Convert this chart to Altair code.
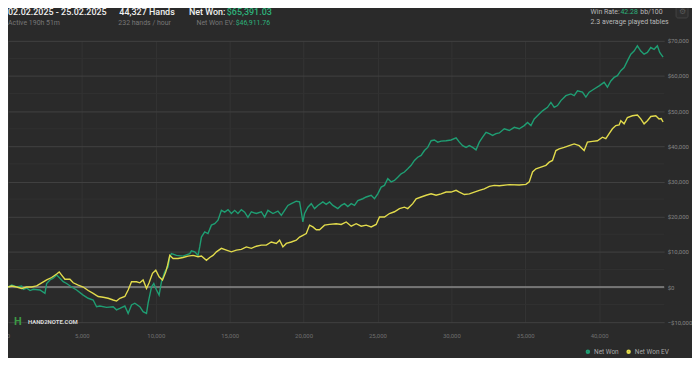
import altair as alt
import pandas as pd

# ---- data ----
won_hands = [0, 250, 588, 926, 1034, 1264, 1487, 1710, 2162, 2500, 2615, 2838, 3061, 3291, 3514, 3737, 3966,
             4304, 4642, 5088, 5426, 5764, 5993, 6216, 6669, 7115, 7345, 7568, 7906, 8129, 8359, 8582, 8919,
             9142, 9372, 9480, 9710, 9865, 10048, 10224, 10386, 10608, 10831, 10946, 11061, 11399, 11845,
             12298, 12413, 12636, 12859, 12973, 13088, 13311, 13534, 13764, 13987, 14210, 14440, 14663, 14886,
             15115, 15338, 15561, 15791, 16014, 16237, 16467, 16804, 17142, 17365, 17588, 17926, 18264, 18494,
             18717, 18940, 19170, 19507, 19730, 19845, 19953, 20068, 20291, 20521, 20744, 20967, 21305, 21535,
             21757, 21981, 22319, 22549, 22771, 22994, 23224, 23447, 23670, 24008, 24238, 24575, 24798, 25021,
             25251, 25474, 25697, 25927, 26150, 26373, 26603, 26826, 27049, 27279, 27502, 27725, 27955, 28178,
             28401, 28631, 28854, 29077, 29307, 29643, 29981, 30319, 30542, 30765, 30995, 31218, 31441, 31670,
             31893, 32116, 32346, 32569, 32792, 33021, 33244, 33582, 33920, 34258, 34595, 34933, 35156, 35386,
             35609, 35946, 36169, 36507, 36737, 36960, 37183, 37413, 37750, 38088, 38311, 38534, 38872, 39102,
             39325, 39662, 40000, 40338, 40561, 40791, 41014, 41237, 41467, 41690, 41913, 42143, 42366, 42589,
             42819, 43042, 43265, 43495, 43718, 43941, 44100, 44327]
won_values = [0, 560, 0, 300, -650, -280, -1000, -650, -850, -1800, 1000, 2000, 2500, 3400, 2500, 1500, 1000,
              0, -850, -2300, -3200, -3700, -5600, -5400, -5800, -5600, -6500, -6100, -5400, -7500, -5100, -4600,
              -5600, -7000, -7500, -4600, 0, 1000, -850, -2300, 1500, 4300, 5700, 8600, 9500, 9000, 8800,
              9500, 10300, 10000, 9000, 11400, 14200, 15700, 15200, 17600, 18000, 19000, 21800, 21300, 22000,
              20900, 21800, 20900, 22000, 21300, 19800, 21400, 20900, 21400, 19900, 21800, 20900, 21600, 20400,
              21800, 23200, 23700, 24400, 24200, 21400, 18500, 20900, 22700, 23700, 22300, 23200, 24200, 23500,
              24200, 23200, 22300, 23200, 23700, 22900, 23700, 23200, 24600, 25100, 25600, 26100, 25100, 26500,
              28400, 28900, 30800, 29900, 30300, 31200, 32200, 32700, 33600, 34600, 36000, 36900, 37400, 38800,
              39700, 41600, 41800, 41200, 41500, 41600, 41800, 42400, 41200, 40200, 39700, 40200, 39700, 39000,
              41200, 42600, 44000, 43600, 43100, 43600, 43800, 45000, 44500, 45400, 45000, 45900, 46800, 45900,
              47800, 49200, 50100, 51100, 52500, 51100, 51600, 53000, 54400, 54900, 54400, 55800, 55400, 54000,
              55400, 56300, 57200, 58200, 56800, 58600, 59600, 60100, 61500, 62400, 64300, 66200, 67100, 68600,
              67100, 66200, 66700, 68100, 67600, 68600, 66700, 65391]

ev_hands = [0, 250, 588, 926, 1264, 1602, 1940, 2277, 2615, 2953, 3291, 3467, 3629, 3852, 4189, 4412, 4750,
            5088, 5426, 5764, 6102, 6439, 6777, 7115, 7345, 7568, 7906, 8129, 8359, 8697, 8919, 9142, 9372,
            9548, 9777, 10000, 10224, 10453, 10676, 10800, 10946, 11169, 11507, 11845, 12183, 12521, 12859,
            13088, 13426, 13649, 13872, 14102, 14440, 14777, 15115, 15453, 15791, 16129, 16467, 16804, 17142,
            17480, 17818, 18156, 18379, 18602, 18832, 19170, 19507, 19730, 19953, 20183, 20406, 20629, 20859,
            21082, 21420, 21757, 22210, 22549, 22886, 23224, 23562, 23900, 24238, 24575, 24913, 25136, 25474,
            25812, 26150, 26488, 26826, 27049, 27387, 27617, 27955, 28292, 28630, 28968, 29307, 29643, 29981,
            30319, 30542, 30880, 31218, 31556, 31893, 32231, 32569, 32907, 33244, 33920, 34595, 35048, 35271,
            35494, 35724, 36061, 36399, 36622, 36845, 37075, 37298, 37636, 37973, 38311, 38649, 38987, 39210,
            39547, 39885, 40223, 40453, 40676, 40899, 41129, 41352, 41467, 41690, 41913, 42251, 42589, 42819,
            43042, 43265, 43495, 43832, 44055, 44200, 44327]
ev_values = [0, 300, 0, -400, 0, 0, 300, 1200, 2000, 2700, 3700, 4300, 3400, 2200, 2200, 1200, 560,
             0, -1000, -1800, -2700, -2900, -3200, -3700, -4000, -3200, -2700, -850, 1500, 1500, 1200, 2000, -400,
             1200, 3900, 4800, 2900, 2000, 4300, 6200, 9000, 8100, 8100, 8400, 8800, 9000, 8600,
             8800, 7600, 8400, 9000, 10000, 11000, 10500, 10000, 10500, 10700, 11400, 11000, 11600, 11900,
             11900, 12800, 12400, 13300, 11400, 12400, 12800, 13300, 14200, 14700, 15200, 17600, 17100, 16300,
             16300, 17600, 17800, 18000, 17800, 18500, 17300, 18000, 17300, 17600, 17100, 17800, 19900, 19900,
             20900, 21400, 22300, 22700, 22300, 23700, 25100, 25600, 26100, 26500, 26100, 26500, 27000, 27000,
             27500, 27000, 26300, 26500, 27000, 27500, 27900, 28600, 28900, 28800, 29100, 29000, 29200, 29900,
             32700, 33600, 34100, 34600, 35500, 36000, 38800, 39300, 39700, 40200, 40700, 40200, 38800, 41200,
             41400, 41600, 42600, 42200, 43600, 45000, 45900, 46100, 47300, 46400, 48200, 48700, 48900, 47800,
             46400, 47300, 48500, 48700, 47800, 47900, 46912]

series_names = ["Net Won", "Net Won  EV"]
series_colors = ["#1f9e73", "#e2db4c"]
x_ticks = [0, 5000, 10000, 15000, 20000, 25000, 30000, 35000, 40000]
y_ticks = [-10000, 0, 10000, 20000, 30000, 40000, 50000, 60000, 70000]
y_minor = [-5000, 5000, 15000, 25000, 35000, 45000, 55000, 65000]

df = pd.concat([
    pd.DataFrame({"hands": won_hands, "value": won_values, "series": series_names[0]}),
    pd.DataFrame({"hands": ev_hands, "value": ev_values, "series": series_names[1]}),
], ignore_index=True)

W, H = 660, 283
FONT = "Roboto"
one = alt.Data(values=[{"a": 1}])


def label(text, x, y, size=7, color="#8a8a8a", weight="normal", align="left"):
    return alt.Chart(one).mark_text(
        text=text, align=align, baseline="middle", font=FONT, fontSize=size,
        color=color, fontWeight=weight
    ).encode(x=alt.value(x), y=alt.value(y))


yscale = alt.Scale(domain=[-10000, 70000], nice=False)
yaxis = alt.Axis(orient="right", values=y_ticks, format="$,d", title=None, domain=False,
                 ticks=False, labelColor="#858585", labelFontSize=6, labelFont=FONT,
                 labelPadding=3, labelAlign="left", labelOverlap=False, labelFlush=False,
                 gridColor="#414141", gridWidth=1)

minor = alt.Chart(pd.DataFrame({"value": y_minor})).mark_rule(color="#313131", strokeWidth=1).encode(
    y=alt.Y("value:Q", scale=yscale, axis=yaxis))

lines = alt.Chart(df).mark_line(strokeWidth=1.4, interpolate="linear").encode(
    x=alt.X("hands:Q", scale=alt.Scale(domain=[0, 44400], nice=False, zero=False),
            axis=alt.Axis(values=x_ticks, format=",d", title=None, domain=False, ticks=False,
                          labelColor="#6f6f6f", labelFontSize=6, labelFont=FONT, labelPadding=10,
                          gridColor="#343434", gridWidth=1, labelFlush=False, labelOverlap=False)),
    y=alt.Y("value:Q", scale=yscale, axis=yaxis),
    color=alt.Color("series:N", scale=alt.Scale(domain=series_names, range=series_colors),
                    legend=alt.Legend(orient="none", legendX=580, legendY=309, direction="horizontal",
                                      title=None, symbolType="circle", symbolSize=4, labelFontSize=6.5,
                                      labelFont=FONT, labelColor="#a8a8a8", columnPadding=3,
                                      labelOffset=3, symbolStrokeWidth=2.5, padding=0)),
    order="hands:Q",
)

zero = alt.Chart(pd.DataFrame({"value": [0]})).mark_rule(color="#8a8a8a", strokeWidth=1.5).encode(
    y=alt.Y("value:Q", scale=yscale, axis=yaxis))

texts = [
    label("02.02.2025 - 25.02.2025", 0, -29, size=9, color="#f0f0f0", weight=500),
    label("Active 190h 51m", 0, -18, size=7, color="#777777"),
    label("44,327 Hands", 112, -29, size=9, color="#f0f0f0", weight=500),
    label("232 hands / hour", 111, -18, size=7, color="#777777"),
    label("Net Won:", 182, -29, size=9, color="#f0f0f0", weight=500),
    label("$65,391.03", 220, -29, size=9, color="#2db27b", weight=500),
    label("Net Won  EV:", 228, -18, size=7, color="#777777", align="right"),
    label("$46,911.76", 229, -18, size=7, color="#2db27b"),
    label("Win Rate:", 586, -29, size=7, color="#b8b8b8"),
    label("42.28", 616, -29, size=7, color="#2db27b"),
    label("bb/100", 636, -29, size=7, color="#b8b8b8"),
    label("2.3 average played tables", 586, -19, size=7, color="#b8b8b8"),
    label("H", 6, 283, size=11, color="#3d9a45", weight="bold"),
    label("HAND2NOTE.COM", 20, 283, size=6, color="#d8d8d8", weight="bold"),
]

icon = alt.Chart(one).mark_rect(fill="#2f2f2f", stroke="#444444", strokeWidth=1, cornerRadius=2).encode(
    x=alt.value(672), x2=alt.value(684), y=alt.value(-35), y2=alt.value(-23))
gear = label("\u2699", 678, -29, size=8, color="#5a5a5a", align="center")

chart = alt.layer(minor, zero, lines, icon, gear, *texts).properties(
    width=W, height=H,
    autosize=alt.AutoSizeParams(type="none"),
    padding={"left": 0, "top": 32, "right": 28, "bottom": 35},
    background="#2a2a2a",
).configure_view(stroke=None)

chart.save("out.html", embed_options={"renderer": "svg", "actions": False})
